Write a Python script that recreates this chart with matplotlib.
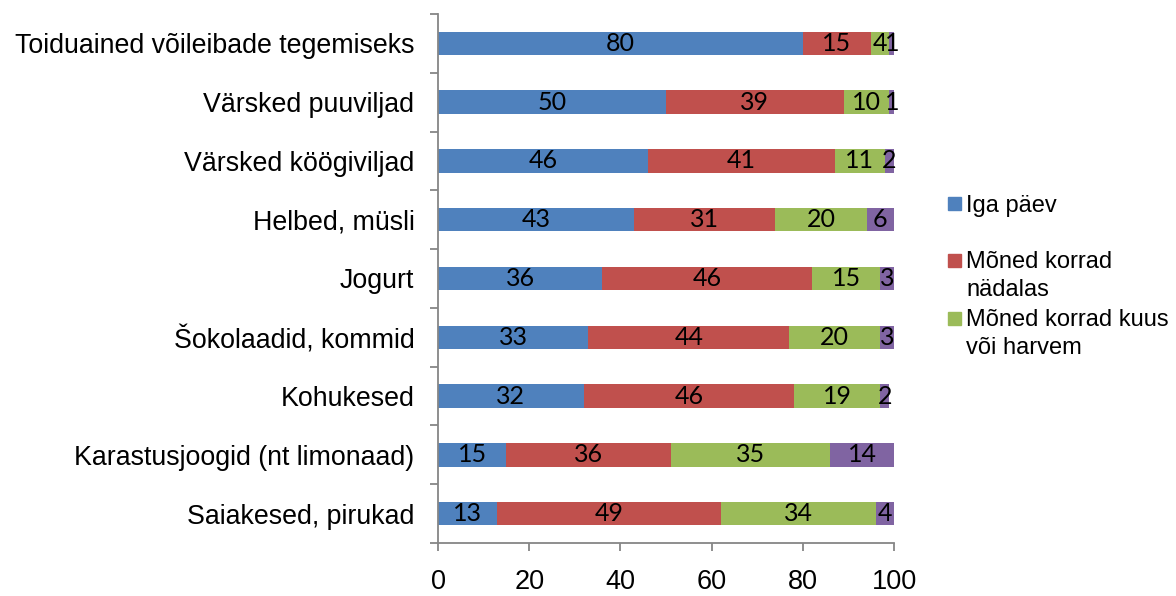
import matplotlib
matplotlib.use("Agg")
import matplotlib.pyplot as plt
from matplotlib.patches import Rectangle
import numpy as np

categories = [
    "Toiduained võileibade tegemiseks",
    "Värsked puuviljad",
    "Värsked köögiviljad",
    "Helbed, müsli",
    "Jogurt",
    "Šokolaadid, kommid",
    "Kohukesed",
    "Karastusjoogid (nt limonaad)",
    "Saiakesed, pirukad",
]
iga_paev = [80, 50, 46, 43, 36, 33, 32, 15, 13]
nadalas = [15, 39, 41, 31, 46, 44, 46, 36, 49]
kuus = [4, 10, 11, 20, 15, 20, 19, 35, 34]
harvem = [1, 1, 2, 6, 3, 3, 2, 14, 4]

series_names = ["Iga päev", "Mõned korrad\nnädalas", "Mõned korrad kuus\nvõi harvem", "Mitte kunagi"]
series = [iga_paev, nadalas, kuus, harvem]
colors = ["#4F81BD", "#C0504D", "#9BBB59", "#8064A2"]
x_ticks = [0, 20, 40, 60, 80, 100]

W, H = 1176, 596
fig = plt.figure(figsize=(W / 100, H / 100), dpi=100)
ax = fig.add_axes([438 / W, 1 - 543 / H, (894 - 438) / W, (543 - 14) / H])

n = len(categories)
y = np.arange(n)[::-1]
left = np.zeros(n)
for vals, col in zip(series, colors):
    vals = np.array(vals, dtype=float)
    ax.barh(y, vals, left=left, height=0.4, color=col)
    for yi, l, v in zip(y, left, vals):
        ax.text(l + v / 2, yi, f"{int(v)}", ha="center", va="center",
                fontsize=18, family="Lato", color="black")
    left += vals

ax.set_xlim(0, 100)
ax.set_ylim(-0.5, n - 0.5)
ax.set_xticks(x_ticks)
ax.set_xticklabels([str(t) for t in x_ticks], fontsize=19.5, family="Liberation Sans")
ax.set_yticks(y)
ax.set_yticklabels(categories, fontsize=19.3, family="Liberation Sans")
ax.tick_params(axis="y", length=0, pad=17)
ax.set_yticks(np.arange(n + 1) - 0.5, minor=True)
ax.tick_params(axis="y", which="minor", length=6, color="#868686", width=1.3)
ax.tick_params(axis="x", length=6, color="#868686", width=1.3, pad=13)

for s in ["top", "right"]:
    ax.spines[s].set_visible(False)
for s in ["left", "bottom"]:
    ax.spines[s].set_color("#868686")
    ax.spines[s].set_linewidth(1.3)

# Legend: coloured square aligned with the first line of each entry
# (square centre, baseline of the last text line) in px from the top
legend_rows = [(203, 212), (260, 296), (318, 354)]
for (sq_c, base), name, col in zip(legend_rows, series_names[:3], colors[:3]):
    fig.patches.append(Rectangle((948 / W, 1 - (sq_c + 6.5) / H), 13 / W, 13 / H,
                                 transform=fig.transFigure, color=col))
    fig.text(966 / W, 1 - base / H, name, ha="left", va="baseline",
             fontsize=17, family="Liberation Sans", linespacing=1.35)

fig.savefig("out.png", dpi=100)
